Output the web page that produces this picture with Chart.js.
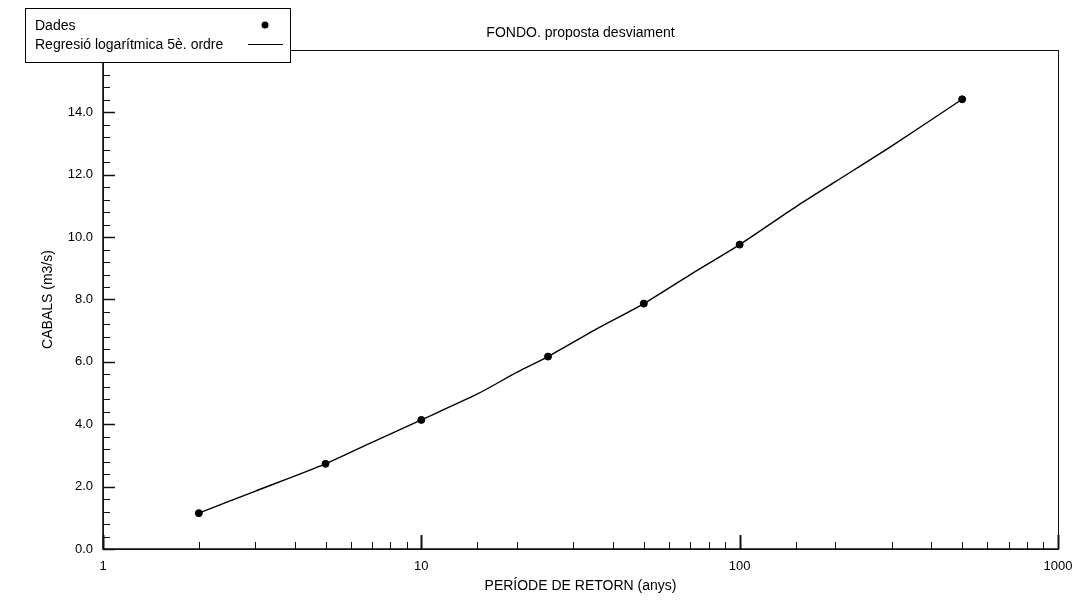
<!DOCTYPE html>
<html>
<head>
<meta charset="utf-8">
<script src="https://cdn.jsdelivr.net/npm/chart.js@4"></script>
<style>
  html, body { margin: 0; padding: 0; background: #fff; }
  #wrap { width: 1088px; height: 604px; }
</style>
</head>
<body>
<div id="wrap"><canvas id="myChart" width="1088" height="604"></canvas></div>
<script>
const titol = 'FONDO. proposta desviament';
const titolX = 'PERÍODE DE RETORN (anys)';
const titolY = 'CABALS (m3/s)';
const etiquetaDades = 'Dades';
const etiquetaRegressio = 'Regresió logarítmica 5è. ordre';

// punts observats
const periodes = [2, 5, 10, 25, 50, 100, 500];
const cabals = [1.15, 2.73, 4.14, 6.17, 7.87, 9.76, 14.42];

// corba de regressió llegida del gràfic
const periodesCorba = [2, 3, 5, 7, 10, 15, 20, 25, 35, 50, 70, 100, 150, 200, 300, 500];
const cabalsCorba = [1.15, 1.85, 2.73, 3.42, 4.14, 4.97, 5.67, 6.17, 7.02, 7.87, 8.8, 9.76, 10.97, 11.78, 12.92, 14.42];

// eixos
const xMajors = [1, 10, 100, 1000];
const yMin = 0, yMax = 16, yPas = 2, yPasMenor = 0.4;

const font = "'Liberation Sans', Arial, sans-serif";

const toPoints = (xs, ys) => xs.map((x, i) => ({ x: x, y: ys[i] }));

// dibuixa marc, marques cap endins, títol i llegenda
const marcPlugin = {
    id: 'marc',
    afterDraw(chart) {
        const ctx = chart.ctx;
        const area = chart.chartArea;
        const sx = chart.scales.x;
        const sy = chart.scales.y;
        ctx.save();
        ctx.strokeStyle = '#111';

        // marques eix y
        for (let v = yMin; v <= yMax + 1e-9; v += yPasMenor) {
            const py = Math.round(sy.getPixelForValue(v)) + 0.5;
            const major = Math.abs(v / yPas - Math.round(v / yPas)) < 1e-6;
            ctx.lineWidth = major ? 1.5 : 1;
            ctx.beginPath();
            ctx.moveTo(area.left, py);
            ctx.lineTo(area.left + (major ? 12 : 7), py);
            ctx.stroke();
        }

        // marques eix x
        sx.ticks.forEach((t) => {
            const px = Math.round(sx.getPixelForValue(t.value)) + 0.5;
            const major = xMajors.includes(t.value);
            ctx.lineWidth = major ? 2 : 1;
            ctx.beginPath();
            ctx.moveTo(px, area.bottom);
            ctx.lineTo(px, area.bottom - (major ? 14 : 7));
            ctx.stroke();
        });

        // marc
        ctx.lineWidth = 1;
        ctx.strokeRect(Math.round(area.left) + 0.5, Math.round(area.top) + 0.5,
            Math.round(area.right - area.left), Math.round(area.bottom - area.top));
        ctx.lineWidth = 1.5;
        ctx.beginPath();
        ctx.moveTo(area.left, area.top);
        ctx.lineTo(area.left, area.bottom);
        ctx.lineTo(area.right, area.bottom);
        ctx.stroke();

        // títol
        ctx.fillStyle = '#000';
        ctx.font = '14px ' + font;
        ctx.textAlign = 'center';
        ctx.textBaseline = 'middle';
        ctx.fillText(titol, (area.left + area.right) / 2, 33);

        // llegenda
        ctx.fillStyle = '#fff';
        ctx.fillRect(25, 8, 265, 54);
        ctx.strokeStyle = '#000';
        ctx.lineWidth = 1;
        ctx.strokeRect(25.5, 8.5, 265, 54);
        ctx.fillStyle = '#000';
        ctx.textAlign = 'left';
        ctx.fillText(chart.data.datasets[0].label, 35, 26);
        ctx.fillText(chart.data.datasets[1].label, 35, 45);
        ctx.beginPath();
        ctx.arc(265, 25, 3.5, 0, Math.PI * 2);
        ctx.fill();
        ctx.beginPath();
        ctx.moveTo(248, 44.5);
        ctx.lineTo(283, 44.5);
        ctx.stroke();
        ctx.restore();
    }
};

const ctx = document.getElementById('myChart').getContext('2d');
const myChart = new Chart(ctx, {
    type: 'scatter',
    data: {
        datasets: [
            {
                label: etiquetaDades,
                data: toPoints(periodes, cabals),
                backgroundColor: '#000',
                borderColor: '#000',
                pointRadius: 3.5,
                showLine: false,
                order: 0
            },
            {
                label: etiquetaRegressio,
                data: toPoints(periodesCorba, cabalsCorba),
                borderColor: '#000',
                borderWidth: 1.4,
                pointRadius: 0,
                showLine: true,
                tension: 0.25,
                order: 1
            }
        ]
    },
    options: {
        responsive: false,
        animation: false,
        layout: { padding: { left: 36, right: 30, top: 50, bottom: 0 } },
        plugins: {
            legend: { display: false },
            tooltip: { enabled: false }
        },
        scales: {
            x: {
                type: 'logarithmic',
                min: 1,
                max: 1000,
                grid: { display: false, drawTicks: false },
                border: { display: false },
                afterFit: (scale) => { scale.height = 55; },
                ticks: {
                    autoSkip: false,
                    maxRotation: 0,
                    padding: 10,
                    color: '#000',
                    font: { family: font, size: 13 },
                    callback: (v) => xMajors.includes(v) ? String(v) : ''
                },
                title: {
                    display: true,
                    text: titolX,
                    color: '#000',
                    font: { family: font, size: 14 },
                    padding: { top: 9, bottom: 9 }
                }
            },
            y: {
                min: yMin,
                max: yMax,
                grid: { display: false, drawTicks: false },
                border: { display: false },
                afterFit: (scale) => { scale.width = 67; },
                ticks: {
                    stepSize: yPas,
                    padding: 10,
                    color: '#000',
                    font: { family: font, size: 13 },
                    callback: (v) => Number(v).toFixed(1)
                },
                title: {
                    display: true,
                    text: titolY,
                    color: '#000',
                    font: { family: font, size: 14 },
                    padding: { top: 4, bottom: 4 }
                }
            }
        }
    },
    plugins: [marcPlugin]
});
</script>
</body>
</html>
